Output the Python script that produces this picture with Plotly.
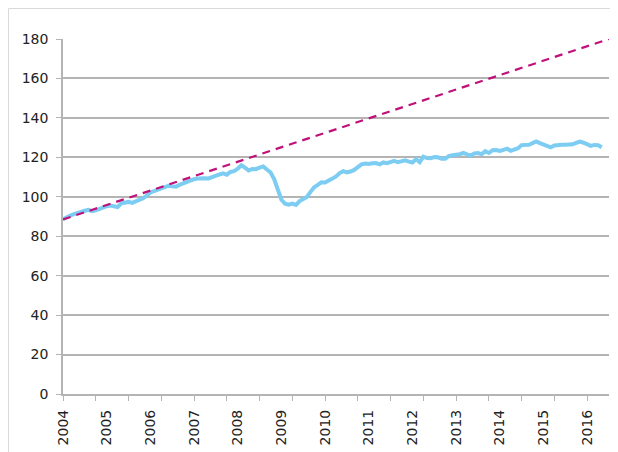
import plotly.graph_objects as go

# Monthly index values, Jan 2004 .. May 2016 (category index 0..148)
index_values = [
    88.6, 89.8, 90.5, 91.2, 91.6, 92.1, 92.9, 93.4, 92.7, 93.1, 93.8, 94.8,
    95.2, 95.6, 95.4, 94.8, 96.7, 97.2, 97.4, 96.9, 97.6, 98.7, 99.2, 100.6,
    102.2, 102.9, 103.6, 104.4, 105.1, 105.6, 105.3, 105.1, 106.0, 106.8, 107.3, 108.2,
    108.9, 109.3, 109.5, 109.4, 109.3, 109.8, 110.6, 111.3, 111.9, 111.2, 112.6, 113.0,
    114.2, 116.0, 114.8, 113.3, 114.1, 114.0, 114.8, 115.4, 113.8, 112.4, 109.0, 103.5,
    98.5, 96.5, 96.0, 96.5, 95.9, 97.8, 98.7, 99.9, 102.5, 104.8, 106.0, 107.3,
    107.2, 108.0, 109.2, 110.3, 112.0, 113.0, 112.4, 112.8, 113.6, 115.0, 116.4, 116.9,
    116.6, 117.0, 117.1, 116.4, 117.4, 117.0, 117.8, 118.2, 117.5, 118.0, 118.5, 117.8,
    117.4, 119.1, 117.5, 120.3, 119.6, 119.5, 120.1, 120.0, 119.3, 119.3, 120.6, 121.1,
    121.2, 121.6, 122.2, 121.5, 120.8, 122.0, 122.2, 121.6, 123.1, 122.2, 123.6, 123.7,
    123.2, 123.8, 124.4, 123.3, 123.8, 124.6, 126.2, 126.4, 126.4, 127.2, 128.1, 127.2,
    126.4, 125.7, 125.1, 126.0, 126.4, 126.4, 126.4, 126.4, 126.6, 127.3, 128.0, 127.4,
    126.4, 125.8, 126.3, 126.1, 125.1,
]
month_index = list(range(len(index_values)))

# Trend line endpoints (category index, value)
trend_x = [0, 150]
trend_y = [88.5, 180.0]

# Axis ticks
year_labels = [str(y) for y in range(2004, 2017)]
year_positions = [12 * k for k in range(len(year_labels))]
minor_tick_positions = list(range(0, 151, 9))
y_ticks = list(range(0, 181, 20))

grid_col = "#b4b4b4"
font = dict(family="DejaVu Sans", size=14, color="#222222")

W, H = 610, 444
ML, MR, MT, MB = 55, 8.5, 31, 58
PW, PH = W - ML - MR, H - MT - MB
bx = -(ML - 0.5) / PW
by = 1 + (MT - 0.5) / PH

fig = go.Figure()
fig.add_trace(go.Scatter(
    x=month_index, y=index_values, mode="lines",
    line=dict(color="#7dcdf3", width=4), showlegend=False, hoverinfo="skip",
))
fig.add_trace(go.Scatter(
    x=trend_x, y=trend_y, mode="lines", xaxis="x2",
    line=dict(color="#c0107a", width=2.2, dash="8px,6px"), showlegend=False, hoverinfo="skip",
))

fig.update_layout(
    width=W, height=H,
    margin=dict(l=ML, r=MR, t=MT, b=MB),
    paper_bgcolor="white", plot_bgcolor="white",
    font=font,
    xaxis=dict(
        range=[0, 150], tickmode="array", tickvals=minor_tick_positions,
        showticklabels=False, ticks="outside", ticklen=5, tickcolor=grid_col,
        showgrid=False, showline=True, linecolor=grid_col, linewidth=1.5,
        zeroline=False, fixedrange=True, automargin=False,
    ),
    xaxis2=dict(
        range=[0, 150], overlaying="x", side="bottom", matches="x",
        tickmode="array", tickvals=year_positions, ticktext=year_labels,
        tickangle=-90, ticks="", showgrid=False, showline=False, zeroline=False,
        tickfont=font, automargin=False, ticklabelstandoff=12,
    ),
    yaxis=dict(
        range=[0, 180], tickmode="array", tickvals=y_ticks,
        showgrid=True, gridcolor=grid_col, gridwidth=1.5,
        ticks="outside", ticklen=5, tickcolor=grid_col,
        showline=True, linecolor=grid_col, linewidth=1.5,
        zeroline=False, tickfont=font, automargin=False, ticklabelstandoff=5,
    ),
    shapes=[
        dict(type="line", xref="paper", yref="paper",
             x0=bx, x1=1.05, y0=by, y1=by,
             line=dict(color="#d9d9d9", width=1)),
        dict(type="line", xref="paper", yref="paper",
             x0=bx, x1=bx, y0=by, y1=-0.2,
             line=dict(color="#d9d9d9", width=1)),
    ],
)

fig.write_html("out.html")
